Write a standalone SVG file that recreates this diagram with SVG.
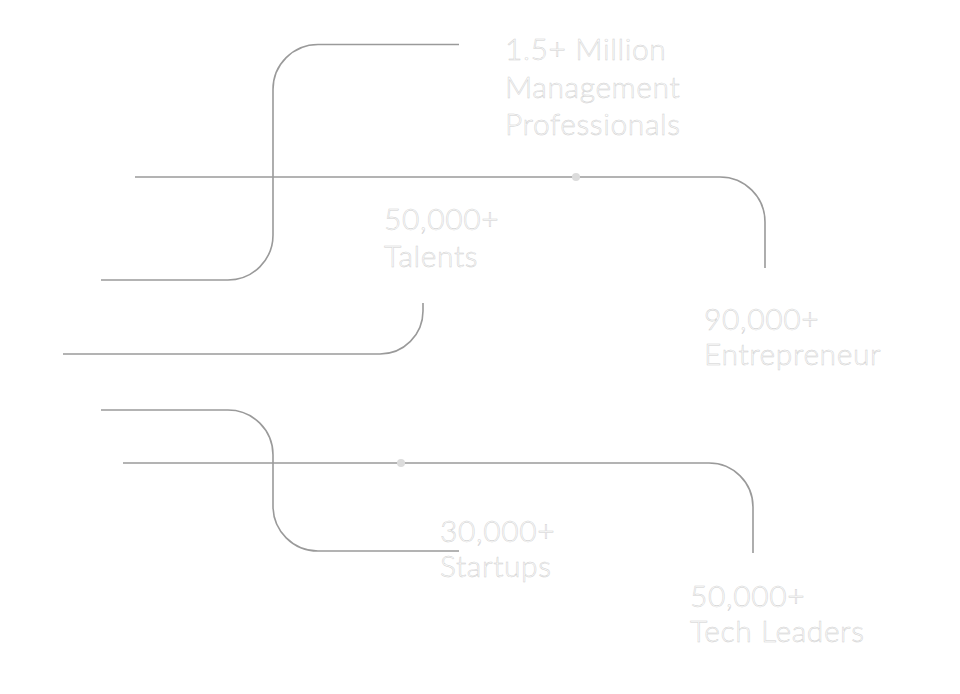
<svg xmlns="http://www.w3.org/2000/svg" width="960" height="694" viewBox="0 0 960 694">
<style>
.ln{fill:none;stroke:#9a9a9a;stroke-width:1.6}
.dot{fill:#dcdcdc}
.t{font-family:Lato,"Open Sans","Liberation Sans",sans-serif;font-weight:300;font-size:30px;letter-spacing:0.6px;fill:#ffffff;stroke:#cfcfcf;stroke-width:0.5}
</style>
<rect width="960" height="694" fill="#ffffff"/>
<g id="connectors">
<path class="ln" d="M459,44.5 H318 A45,45 0 0 0 273,89.5 V235 A45,45 0 0 1 228,280 H101"/>
<path class="ln" d="M135,177 H720 A45,45 0 0 1 765,222 V268"/>
<path class="ln" d="M423,303 V311 A43,43 0 0 1 380,354 H63"/>
<path class="ln" d="M101,410 H228 A45,45 0 0 1 273,455 V506 A45,45 0 0 0 318,551 H459"/>
<path class="ln" d="M123,463 H709 A44,44 0 0 1 753,507 V553"/>
<circle class="dot" cx="576" cy="177" r="4"/>
<circle class="dot" cx="401" cy="463" r="4"/>
</g>
<g id="management">
<text class="t" x="505" y="60">1.5+ Million</text>
<text class="t" x="505" y="98">Management</text>
<text class="t" x="505" y="135">Professionals</text>
</g>
<g id="talents">
<text class="t" x="384" y="230">50,000+</text>
<text class="t" x="384" y="267">Talents</text>
</g>
<g id="entrepreneur">
<text class="t" x="704" y="330">90,000+</text>
<text class="t" x="704" y="365">Entrepreneur</text>
</g>
<g id="startups">
<text class="t" x="440" y="542">30,000+</text>
<text class="t" x="440" y="577">Startups</text>
</g>
<g id="techleaders">
<text class="t" x="690" y="607">50,000+</text>
<text class="t" x="690" y="642">Tech Leaders</text>
</g>
</svg>
